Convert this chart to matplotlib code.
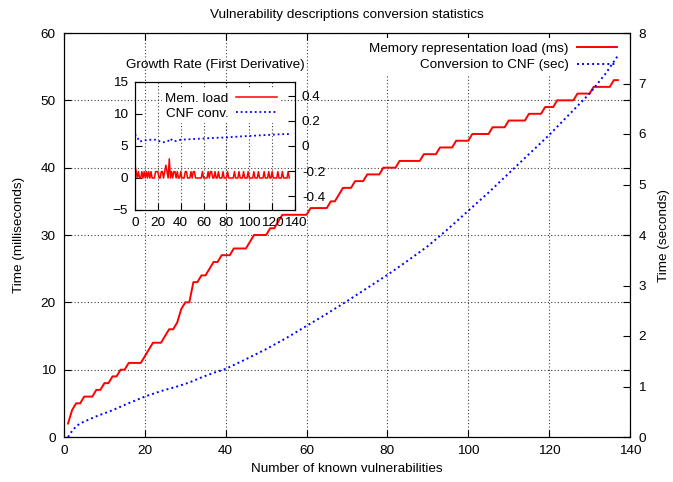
import numpy as np
import matplotlib
matplotlib.use("Agg")
import matplotlib.pyplot as plt

plt.rcParams['font.family'] = ['Liberation Sans', 'DejaVu Sans']

# ---- data ----
mem_x = list(range(1, 138))
mem_ms = [2, 4, 5, 5, 6, 6, 6, 7, 7, 8, 8, 9, 9, 10, 10, 11, 11, 11, 11, 12,
          13, 14, 14, 14, 15, 16, 16, 17, 19, 20, 20, 23, 23, 24, 24, 25, 26, 26, 27, 27,
          27, 28, 28, 28, 28, 29, 30, 30, 30, 30, 31, 31, 32, 33, 33, 33, 33, 33, 33, 33,
          34, 34, 34, 34, 34, 35, 35, 36, 37, 37, 37, 38, 38, 38, 39, 39, 39, 39, 40, 40,
          40, 40, 41, 41, 41, 41, 41, 41, 42, 42, 42, 42, 43, 43, 43, 43, 44, 44, 44, 44,
          45, 45, 45, 45, 45, 46, 46, 46, 46, 47, 47, 47, 47, 47, 48, 48, 48, 48, 49, 49,
          49, 50, 50, 50, 50, 50, 51, 51, 51, 51, 52, 52, 52, 52, 52, 53, 53]

cnf_x = [1, 2, 3, 4, 6, 8, 12, 16, 20, 24, 28, 31, 34, 37, 40, 45, 50, 55, 60, 65,
         70, 75, 80, 85, 90, 95, 100, 105, 110, 115, 120, 125, 130, 134, 137]
cnf_sec = [0.0, 0.12, 0.21, 0.27, 0.34, 0.41, 0.53, 0.67, 0.80, 0.91, 1.00, 1.08, 1.18,
           1.27, 1.35, 1.54, 1.74, 1.96, 2.20, 2.44, 2.69, 2.95, 3.21, 3.49, 3.78, 4.12,
           4.48, 4.84, 5.22, 5.60, 5.98, 6.39, 6.80, 7.20, 7.55]

# inset: growth rate of CNF conversion
dcnf_x = [0, 2, 4, 8, 14, 19, 22, 25, 29, 31, 33, 36, 40, 50, 60, 70, 80, 90, 100,
          110, 120, 130, 135]
dcnf_v = [0.094, 0.07, 0.035, 0.045, 0.05, 0.05, 0.035, 0.03, 0.04, 0.06, 0.04, 0.04,
          0.05, 0.055, 0.06, 0.065, 0.068, 0.075, 0.08, 0.085, 0.09, 0.095, 0.095]

x_ticks = [0, 20, 40, 60, 80, 100, 120, 140]
y_ticks = [0, 10, 20, 30, 40, 50, 60]
y2_ticks = [0, 1, 2, 3, 4, 5, 6, 7, 8]

RED = '#ff0000'
BLUE = '#0000ff'
FS = 9.7

fig = plt.figure(figsize=(6.73, 4.82), dpi=100)
W, H = 673, 482
def rect(l, t, r, b):
    return [l / W, 1 - b / H, (r - l) / W, (b - t) / H]

ax = fig.add_axes(rect(64, 33, 630, 437))
ax2 = ax.twinx()

ax.plot(mem_x, mem_ms, color=RED, lw=1.4, label='Memory representation load (ms)')
l2, = ax2.plot(cnf_x, cnf_sec, color=BLUE, lw=1.4, linestyle=(0, (1.0, 1.6)),
               label='Conversion to CNF (sec)', zorder=6)

ax.set_xlim(0, 140)
ax.set_ylim(0, 60)
ax2.set_ylim(0, 8)
ax.set_xticks(x_ticks)
ax.set_yticks(y_ticks)
ax2.set_yticks(y2_ticks)
ax.tick_params(direction='in', length=5, labelsize=FS, top=True, right=True, pad=6)
ax2.tick_params(direction='in', length=5, labelsize=FS, pad=6)
ax.grid(True, color='0.25', linestyle=(0, (1, 2)), lw=0.8)

ax.set_xlabel('Number of known vulnerabilities', fontsize=FS, labelpad=4)
ax.set_ylabel('Time (milliseconds)', fontsize=FS, labelpad=11)
ax2.set_ylabel('Time (seconds)', fontsize=FS, labelpad=9)
ax.set_title('Vulnerability descriptions conversion statistics', fontsize=FS, pad=11)

h1, lab1 = ax.get_legend_handles_labels()
leg = ax2.legend(h1 + [l2], lab1 + [l2.get_label()], loc='upper right',
                 bbox_to_anchor=(0.998, 1.005), markerfirst=False, fontsize=FS,
                 frameon=True, framealpha=1, facecolor='white', edgecolor='none',
                 fancybox=False, handlelength=3.0, handletextpad=0.6,
                 labelspacing=0.3, borderpad=0.35)
leg.set_zorder(5)

# ---- inset ----
ins = fig.add_axes(rect(135, 82, 295, 210))
ins.patch.set_alpha(0)
ins2 = ins.twinx()
dmem = np.diff(mem_ms)
ins.plot(range(len(dmem)), dmem, color=RED, lw=1.1, label='Mem. load')
li, = ins2.plot(dcnf_x, dcnf_v, color=BLUE, lw=1.3, linestyle=(0, (1.0, 1.6)),
                label='CNF conv.')
ins.set_xlim(0, 140)
ins.set_ylim(-5, 15)
ins2.set_ylim(-0.51, 0.51)
ins.set_xticks(x_ticks)
ins.set_yticks([-5, 0, 5, 10, 15])
ins2.set_yticks([-0.4, -0.2, 0, 0.2, 0.4])
ins2.set_yticklabels(['-0.4', '-0.2', '0', '0.2', '0.4'])
ins.tick_params(direction='in', length=5, labelsize=FS, pad=5)
ins2.tick_params(direction='in', length=5, labelsize=FS, pad=5)
ins.grid(True, axis='x', color='0.25', linestyle=(0, (1, 2)), lw=0.8)
ins.set_title('Growth Rate (First Derivative)', fontsize=FS, pad=10)
hi, labi = ins.get_legend_handles_labels()
ins2.legend(hi + [li], labi + [li.get_label()], loc='upper right',
            bbox_to_anchor=(0.95, 1.0), markerfirst=False, fontsize=FS,
            frameon=True, framealpha=1, facecolor='white', edgecolor='none',
            fancybox=False, handlelength=3.0, handletextpad=0.6,
            labelspacing=0.2, borderpad=0.25)

fig.savefig('out.png', dpi=100)
